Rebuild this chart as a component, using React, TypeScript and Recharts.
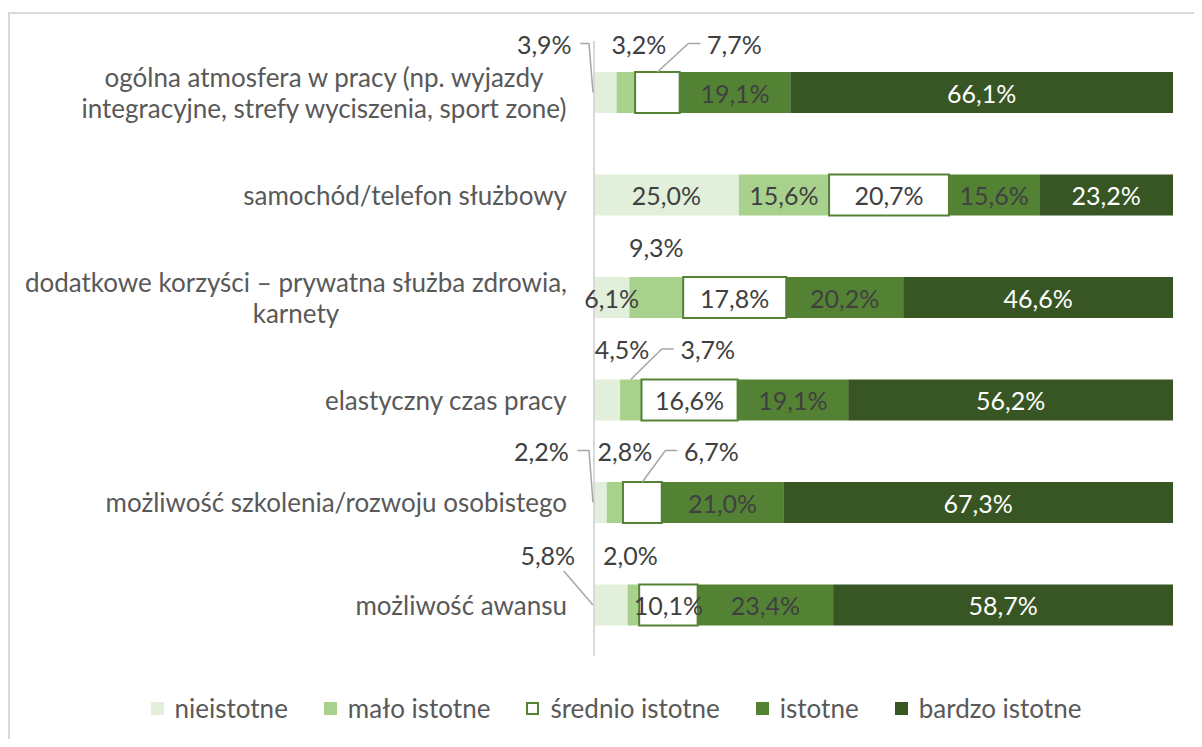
import React from 'react';
import { BarChart, Bar, XAxis, YAxis, LabelList } from 'recharts';

const categories = [
  'ogólna atmosfera w pracy (np. wyjazdy\nintegracyjne, strefy wyciszenia, sport zone)',
  'samochód/telefon służbowy',
  'dodatkowe korzyści – prywatna służba zdrowia,\nkarnety',
  'elastyczny czas pracy',
  'możliwość szkolenia/rozwoju osobistego',
  'możliwość awansu',
];

const seriesNames = ['nieistotne', 'mało istotne', 'średnio istotne', 'istotne', 'bardzo istotne'];

const nieistotne = [3.9, 25.0, 6.1, 4.5, 2.2, 5.8];
const maloIstotne = [3.2, 15.6, 9.3, 3.7, 2.8, 2.0];
const srednioIstotne = [7.7, 20.7, 17.8, 16.6, 6.7, 10.1];
const istotne = [19.1, 15.6, 20.2, 19.1, 21.0, 23.4];
const bardzoIstotne = [66.1, 23.2, 46.6, 56.2, 67.3, 58.7];

const FONT = 'Lato, Carlito, Calibri, sans-serif';
const DARK = '#404040';
const GREY = '#595959';

const keys = ['s0', 's1', 's2', 's3', 's4'];
const fills = ['#E2EFDA', '#A9D18E', '#FFFFFF', '#548235', '#375623'];
const labelColors = [DARK, DARK, DARK, DARK, '#FFFFFF'];

const chartData = categories.map((cat, i) => ({
  cat,
  s0: nieistotne[i],
  s1: maloIstotne[i],
  s2: srednioIstotne[i],
  s3: istotne[i],
  s4: bardzoIstotne[i],
}));

// labels moved outside small segments (offsets from segment centre), as in Excel
type Place = { dx: number; dy: number; leader?: 'axis' | 'left' | 'diag' };
const places: Record<string, Place> = {
  's0-0': { dx: -61, dy: -49, leader: 'axis' },
  's1-0': { dx: 13, dy: -49 },
  's2-0': { dx: 77, dy: -49, leader: 'left' },
  's1-2': { dx: 0, dy: -51 },
  's0-3': { dx: 15, dy: -51 },
  's1-3': { dx: 77, dy: -51, leader: 'left' },
  's0-4': { dx: -59, dy: -52, leader: 'axis' },
  's1-4': { dx: 10, dy: -52 },
  's2-4': { dx: 69, dy: -52, leader: 'left' },
  's0-5': { dx: -63, dy: -50, leader: 'diag' },
  's1-5': { dx: -3, dy: -50 },
};

const fmt = (v: number) => v.toFixed(1).replace('.', ',') + '%';

const makeLabel = (si: number) => (props: any) => {
  const { x, y, width, height, value, index } = props;
  const cx = x + width / 2;
  const cy = y + height / 2;
  const p = places[`${keys[si]}-${index}`];
  if (!p) {
    return (
      <text x={cx} y={cy} textAnchor="middle" dominantBaseline="central"
        fill={labelColors[si]} fontSize={25} fontFamily={FONT}>
        {fmt(value)}
      </text>
    );
  }
  const tx = cx + p.dx;
  const ty = cy + p.dy;
  let path = '';
  if (p.leader === 'axis') path = `M${tx + 36},${ty} H${x - 5} L${x - 1},${cy}`;
  if (p.leader === 'left') path = `M${tx - 34},${ty} H${tx - 46} L${cx},${y}`;
  if (p.leader === 'diag') path = `M${tx + 16},${ty + 16} L${x - 1},${cy}`;
  return (
    <g>
      {path && <path d={path} stroke="#A6A6A6" strokeWidth={1.5} fill="none" />}
      <text x={tx} y={ty} textAnchor="middle" dominantBaseline="central"
        fill={DARK} fontSize={25} fontFamily={FONT}>
        {fmt(value)}
      </text>
    </g>
  );
};

let ctx: CanvasRenderingContext2D | null = null;
const measure = (s: string) => {
  if (!ctx) ctx = document.createElement('canvas').getContext('2d');
  if (!ctx) return s.length * 13;
  ctx.font = `26px ${FONT}`;
  return ctx.measureText(s).width;
};

const CategoryTick = (props: any) => {
  const { x, y, payload } = props;
  const lines = String(payload.value).split('\n');
  const maxW = Math.max(...lines.map(measure));
  const lineH = 31;
  const y0 = y - ((lines.length - 1) * lineH) / 2;
  return (
    <g>
      {lines.map((l, i) => (
        <text key={i} x={x - maxW / 2} y={y0 + i * lineH} textAnchor="middle"
          dominantBaseline="central" fill={GREY} fontSize={26} fontFamily={FONT}>
          {l}
        </text>
      ))}
    </g>
  );
};

export default function App() {
  return (
    <div style={{ position: 'relative', width: 1202, height: 747, margin: -8, overflow: 'hidden', background: '#fff' }}>
      <div style={{
        position: 'absolute', left: 8, top: 12, width: 1300, height: 800,
        borderTop: '2px solid #D9D9D9', borderLeft: '2px solid #D9D9D9',
      }} />
      <div style={{ position: 'absolute', left: 0, top: 0 }}>
        <BarChart width={1202} height={747} data={chartData} layout="vertical"
          margin={{ top: 41, right: 29, bottom: 91, left: 0 }}>
          <XAxis type="number" domain={[0, 100]} allowDataOverflow hide />
          <YAxis type="category" dataKey="cat" width={594} tickLine={false} tickSize={0}
            tickMargin={27} axisLine={{ stroke: '#D9D9D9', strokeWidth: 2 }}
            tick={<CategoryTick />} interval={0} />
          {keys.map((k, si) => (
            <Bar key={k} dataKey={k} name={seriesNames[si]} stackId="a" barSize={41}
              fill={fills[si]} stroke={si === 2 ? '#548235' : 'none'} strokeWidth={si === 2 ? 2 : 0}
              isAnimationActive={false}>
              <LabelList dataKey={k} content={makeLabel(si)} />
            </Bar>
          ))}
        </BarChart>
      </div>
      <div style={{
        position: 'absolute', left: 15, top: 692, width: 1202, display: 'flex',
        justifyContent: 'center', gap: 36, fontFamily: FONT, fontSize: 26, color: GREY,
      }}>
        {seriesNames.map((n, si) => (
          <div key={n} style={{ display: 'flex', alignItems: 'center' }}>
            <span style={{
              display: 'inline-block', width: 13, height: 13, marginRight: 11, boxSizing: 'border-box',
              background: fills[si], border: si === 2 ? '2px solid #548235' : 'none',
            }} />
            <span>{n}</span>
          </div>
        ))}
      </div>
    </div>
  );
}
